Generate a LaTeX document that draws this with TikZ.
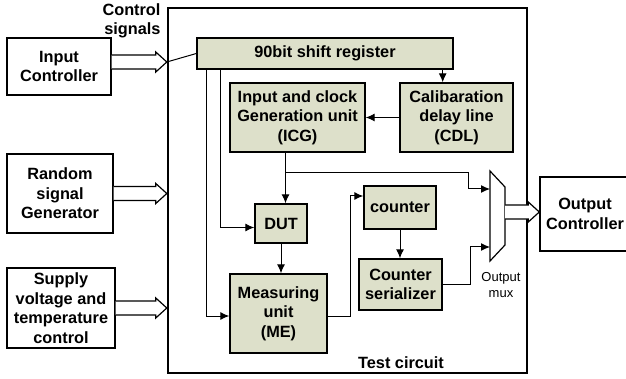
\documentclass[tikz,border=0pt]{standalone}
\usepackage{fontspec}
\setmainfont{Liberation Sans}
\usetikzlibrary{calc,arrows.meta}

\definecolor{blkfill}{RGB}{221,224,202}

\tikzset{
  box/.style={draw, line width=1.4pt, align=center, inner sep=1pt,
    font=\fontsize{16.3}{19.5}\selectfont\bfseries},
  blk/.style={box, fill=blkfill},
  conn/.style={line width=1pt, -{Latex[length=9pt,width=8pt]}},
  wire/.style={line width=1pt},
  fat/.style={line width=1.2pt, fill=white}
}

% wide hollow arrow between two points of the same height
\newcommand{\hollowarrow}[2]{%
  \draw[fat] (#1) ++(0,-7) -- ($(#2)+(-11,-7)$) -- ++(0,-3) -- (#2)
    -- ++(-11,10) -- ++(0,-3) -- ($(#1)+(0,7)$);}

\begin{document}
\begin{tikzpicture}[x=1pt, y=-1pt]
  \path[use as bounding box, clip] (0,0) rectangle (626,379);

  % outer blocks
  \node[box, minimum width=104pt, minimum height=57pt] (inc) at (59,66.5) {Input\\Controller};
  \node[box, minimum width=106pt, minimum height=79pt] (rsg) at (60,193.5) {Random\\signal\\Generator};
  \node[box, minimum width=108pt, minimum height=80pt] (svt) at (61,308) {Supply\\voltage and\\temperature\\control};
  \node[box, minimum width=90pt, minimum height=74pt] (outc) at (585,214) {Output\\Controller};

  % test circuit
  \node[draw, line width=2.4pt, minimum width=359pt, minimum height=365pt] (tc) at (347.5,190.5) {};
  \node[font=\fontsize{16.3}{19.5}\selectfont\bfseries] (tcl) at (401,363) {Test circuit};
  \node[anchor=east, align=right, font=\fontsize{16.3}{18.5}\selectfont\bfseries] (csl) at (164,21) {Control\\signals};

  \node[blk, minimum width=256pt, minimum height=31pt] (sr) at (325,53.5) {90bit shift register};
  \node[blk, minimum width=135pt, minimum height=69pt] (icg) at (297.5,117.5) {Input and clock\\Generation unit\\(ICG)};
  \node[blk, minimum width=113pt, minimum height=69pt] (cdl) at (456.5,117.5) {Calibaration\\delay line\\(CDL)};
  \node[blk, minimum width=52pt, minimum height=39pt] (dut) at (281,223.5) {DUT};
  \node[blk, minimum width=97pt, minimum height=79pt] (me) at (278.5,313.5) {Measuring\\unit\\(ME)};
  \node[blk, minimum width=72pt, minimum height=43pt] (cnt) at (400,207.5) {counter};
  \node[blk, minimum width=83pt, minimum height=51pt] (ser) at (400.5,284.5) {Counter\\serializer};

  % output mux
  \draw[line width=1.2pt] (490,171) -- (505,187) -- (505,245) -- (490,261) -- cycle;
  \coordinate (muxa) at (490,189);
  \coordinate (muxb) at (490,247);
  \coordinate (muxo) at (505,212);
  \node[align=center, font=\fontsize{13}{16}\selectfont] (muxl) at (501,285) {Output\\mux};

  % connections
  \coordinate (cs) at ($(inc.east -| tc.west)+(0,-4.5)$);
  \draw[wire] (sr.west) -- (cs);
  \draw[conn] ($(sr.south west)+(10,0)$) |- ($(me.west)+(0,2.5)$);
  \draw[conn] ($(sr.south west)+(24,0)$) |- ($(dut.west)+(0,4)$);
  \draw[conn] ($(sr.south east)+(-11,0)$) -- ($(cdl.north east)+(-71,0)$);
  \draw[conn] (cdl.west) -- (icg.east);
  \draw[conn] ($(icg.south)+(-12,0)$) -- ($(dut.north)+(4.5,0)$);
  \draw[conn] ($(icg.south)+(-12,20)$) -| ($(muxa)+(-22,0)$) -- (muxa);
  \draw[conn] (dut.south) -- (dut.south |- me.north);
  \draw[conn] ($(me.east)+(0,2.5)$) -| ($(cnt.west)+(-13,-11.5)$) -- ($(cnt.west)+(0,-11.5)$);
  \draw[conn] (cnt.south) -- (cnt.south |- ser.north);
  \draw[conn] (ser.east) -| ($(muxb)+(-20,0)$) -- (muxb);

  % bus arrows
  \hollowarrow{$(inc.east)+(0,-4.5)$}{cs}
  \hollowarrow{rsg.east}{rsg.east -| tc.west}
  \hollowarrow{svt.east}{svt.east -| tc.west}
  \hollowarrow{muxo}{muxo -| outc.west}

\end{tikzpicture}
\end{document}
